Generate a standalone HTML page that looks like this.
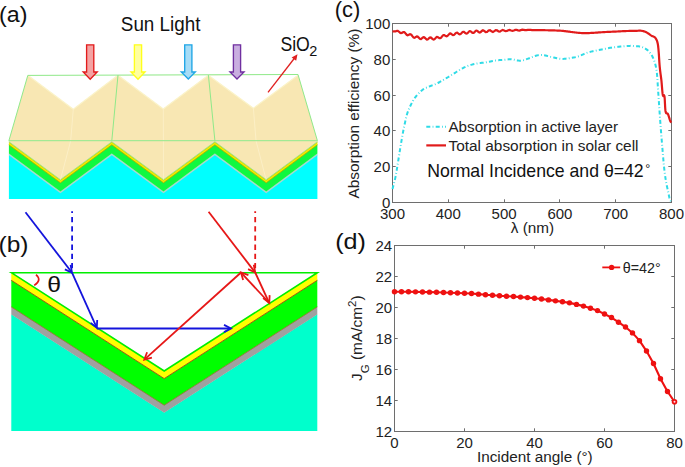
<!DOCTYPE html>
<html><head><meta charset="utf-8"><style>
html,body{margin:0;padding:0;background:#fff;width:685px;height:467px;overflow:hidden}
svg{display:block;font-family:"Liberation Sans", sans-serif}
</style></head><body>
<svg width="685" height="467" viewBox="0 0 685 467">
<polygon points="27.8,75.4 298,74.5 317.4,140.7 8.9,140.7" fill="#f8e7b3"/>
<polygon points="27.8,75.2 118,75 73.3,109.2" fill="#ffffff"/>
<polyline points="28.8,76 73.3,109.2 117,76" fill="none" stroke="#fbf3c8" stroke-width="1.2"/>
<polygon points="118,75.2 208.4,75 163.3,109" fill="#ffffff"/>
<polyline points="119,76 163.3,109 207.4,76" fill="none" stroke="#fbf3c8" stroke-width="1.2"/>
<polygon points="208.4,75.2 298,75 253.4,108.3" fill="#ffffff"/>
<polyline points="209.4,76 253.4,108.3 297,76" fill="none" stroke="#fbf3c8" stroke-width="1.2"/>
<polygon points="8.9,140.7 317.4,140.7 317.40,142.00 266.20,180.00 214.90,142.00 163.50,180.00 111.80,142.00 60.40,180.00 8.90,142.00" fill="#f8e7b3"/>
<polygon points="8.90,154.50 60.40,192.50 111.80,154.50 163.50,192.50 214.90,154.50 266.20,192.50 317.40,154.50 317.4,199 8.9,199" fill="#00ffff"/>
<polygon points="8.90,153.20 60.40,191.20 111.80,153.20 163.50,191.20 214.90,153.20 266.20,191.20 317.40,153.20 317.40,155.20 266.20,193.20 214.90,155.20 163.50,193.20 111.80,155.20 60.40,193.20 8.90,155.20" fill="#a8d8d0"/>
<polygon points="8.90,144.60 60.40,182.60 111.80,144.60 163.50,182.60 214.90,144.60 266.20,182.60 317.40,144.60 317.40,153.60 266.20,191.60 214.90,153.60 163.50,191.60 111.80,153.60 60.40,191.60 8.90,153.60" fill="#10f840"/>
<polygon points="8.90,142.00 60.40,180.00 111.80,142.00 163.50,180.00 214.90,142.00 266.20,180.00 317.40,142.00 317.40,145.00 266.20,183.00 214.90,145.00 163.50,183.00 111.80,145.00 60.40,183.00 8.90,145.00" fill="#f2f000"/>
<polyline points="8.90,142.30 60.40,180.30 111.80,142.30 163.50,180.30 214.90,142.30 266.20,180.30 317.40,142.30" fill="none" stroke="#c8c000" stroke-width="0.7"/>
<polyline points="8.90,144.80 60.40,182.80 111.80,144.80 163.50,182.80 214.90,144.80 266.20,182.80 317.40,144.80" fill="none" stroke="#9a9a00" stroke-width="0.7"/>
<line x1="73.3" y1="109.2" x2="70.7" y2="140.7" stroke="#fcefc6" stroke-width="1"/>
<line x1="163.3" y1="109" x2="163.4" y2="140.7" stroke="#fcefc6" stroke-width="1"/>
<line x1="253.4" y1="108.3" x2="256" y2="140.7" stroke="#fcefc6" stroke-width="1"/>
<line x1="70.7" y1="140.7" x2="60.4" y2="180" stroke="#fcefc6" stroke-width="1"/>
<line x1="163.4" y1="140.7" x2="163.5" y2="180" stroke="#fcefc6" stroke-width="1"/>
<line x1="256" y1="140.7" x2="266.2" y2="180" stroke="#fcefc6" stroke-width="1"/>
<line x1="27.8" y1="75.4" x2="298" y2="74.5" stroke="#8fe98a" stroke-width="1"/>
<line x1="27.8" y1="75.4" x2="8.9" y2="140.7" stroke="#8fe98a" stroke-width="1"/>
<line x1="298" y1="74.5" x2="317.4" y2="140.7" stroke="#8fe98a" stroke-width="1"/>
<line x1="8.9" y1="140.7" x2="317.4" y2="140.7" stroke="#8fe98a" stroke-width="1"/>
<line x1="118" y1="75" x2="111.8" y2="140.7" stroke="#8fe98a" stroke-width="1"/>
<line x1="208.4" y1="75" x2="214.9" y2="140.7" stroke="#8fe98a" stroke-width="1"/>
<polyline points="8.90,141.70 60.40,179.70 111.80,141.70 163.50,179.70 214.90,141.70 266.20,179.70 317.40,141.70" fill="none" stroke="#8fe98a" stroke-width="0.8"/>
<polygon points="86.60,44.80 93.80,44.80 93.80,72.00 97.20,72.00 90.20,79.30 83.20,72.00 86.60,72.00" fill="#f4a3a3" stroke="#e21b1b" stroke-width="1.35" stroke-linejoin="miter"/>
<polygon points="134.40,44.80 141.60,44.80 141.60,72.00 145.00,72.00 138.00,79.30 131.00,72.00 134.40,72.00" fill="#ffff9e" stroke="#ffff1a" stroke-width="1.35" stroke-linejoin="miter"/>
<polygon points="184.70,44.80 191.90,44.80 191.90,72.00 195.30,72.00 188.30,79.00 181.30,72.00 184.70,72.00" fill="#a6dcf6" stroke="#1fa6e6" stroke-width="1.35" stroke-linejoin="miter"/>
<polygon points="233.40,44.80 240.60,44.80 240.60,72.00 244.00,72.00 237.00,79.00 230.00,72.00 233.40,72.00" fill="#c9aee0" stroke="#7030a0" stroke-width="1.35" stroke-linejoin="miter"/>
<line x1="268" y1="92.3" x2="295" y2="57.5" stroke="#e02020" stroke-width="1.3"/>
<polygon points="297.5,54.3 291.6,57.6 296.2,60.8" fill="#e02020"/>
<text transform="translate(-0.9,21.5) scale(1.08,1)" font-size="21.5" text-anchor="start" fill="#111" >(a)</text>
<text x="120.8" y="30.6" font-size="19.8" text-anchor="start" fill="#111" textLength="79.7" lengthAdjust="spacingAndGlyphs">Sun Light</text>
<text x="280.4" y="50.6" font-size="19.8" text-anchor="start" fill="#111" textLength="29.4" lengthAdjust="spacingAndGlyphs">SiO</text>
<text x="309.2" y="55.8" font-size="14.5" text-anchor="start" fill="#111" >2</text>
<polygon points="11.30,314.20 164.20,412.50 317.30,314.20 317.3,431 11.3,431" fill="#00ffcc"/>
<polygon points="11.30,306.70 164.20,405.00 317.30,306.70 317.30,314.50 164.20,412.80 11.30,314.50" fill="#a0a0a0"/>
<polygon points="11.30,280.10 164.20,378.40 317.30,280.10 317.30,306.90 164.20,405.20 11.30,306.90" fill="#00ff00"/>
<polygon points="11.30,272.70 164.20,371.00 317.30,272.70 317.30,280.30 164.20,378.60 11.30,280.30" fill="#ffff00"/>
<polyline points="11.30,280.30 164.20,378.60 317.30,280.30" fill="none" stroke="#a05a10" stroke-width="1"/>
<polyline points="11.30,306.90 164.20,405.20 317.30,306.90" fill="none" stroke="#a06a30" stroke-width="0.8"/>
<polygon points="11.30,272.70 164.20,371.00 317.30,272.70" fill="#ffffff" stroke="#00ee00" stroke-width="1.6" stroke-linejoin="miter"/>
<line x1="72.1" y1="211.2" x2="72.1" y2="270" stroke="#1414dc" stroke-width="1.8" stroke-dasharray="5.3,3.9" stroke-dashoffset="3.4"/>
<line x1="25.5" y1="212.2" x2="71.51" y2="272.07" stroke="#1414dc" stroke-width="1.8"/><polyline points="64.88,269.34 72.00,272.70 70.59,264.96" fill="none" stroke="#1414dc" stroke-width="1.8" stroke-linejoin="miter"/>
<line x1="72" y1="272.7" x2="96.47" y2="327.07" stroke="#1414dc" stroke-width="1.8"/><polyline points="90.64,322.89 96.80,327.80 97.21,319.94" fill="none" stroke="#1414dc" stroke-width="1.8" stroke-linejoin="miter"/>
<line x1="96.8" y1="328.5" x2="230.20" y2="328.50" stroke="#1414dc" stroke-width="1.8"/><polyline points="224.00,332.10 231.00,328.50 224.00,324.90" fill="none" stroke="#1414dc" stroke-width="1.8" stroke-linejoin="miter"/>
<line x1="255.2" y1="211.2" x2="255.2" y2="270" stroke="#e61717" stroke-width="1.8" stroke-dasharray="5.3,3.9" stroke-dashoffset="3.4"/>
<line x1="208.6" y1="211.8" x2="254.71" y2="271.87" stroke="#e61717" stroke-width="1.8"/><polyline points="248.08,269.14 255.20,272.50 253.79,264.76" fill="none" stroke="#e61717" stroke-width="1.8" stroke-linejoin="miter"/>
<line x1="255.2" y1="272.5" x2="268.96" y2="302.27" stroke="#e61717" stroke-width="1.8"/><polyline points="263.09,298.16 269.30,303.00 269.63,295.14" fill="none" stroke="#e61717" stroke-width="1.8" stroke-linejoin="miter"/>
<line x1="269.3" y1="303" x2="241.54" y2="273.09" stroke="#e61717" stroke-width="1.8"/><polyline points="248.40,275.18 241.00,272.50 243.12,280.08" fill="none" stroke="#e61717" stroke-width="1.8" stroke-linejoin="miter"/>
<line x1="241" y1="272.5" x2="144.89" y2="359.06" stroke="#e61717" stroke-width="1.8"/><polyline points="147.09,352.24 144.30,359.60 151.91,357.59" fill="none" stroke="#e61717" stroke-width="1.8" stroke-linejoin="miter"/>
<path d="M 36.0 274.6 Q 42.3 280.2 34.2 285.4" fill="none" stroke="#e61717" stroke-width="1.7"/>
<text transform="translate(-1.5,252.2) scale(1.14,1)" font-size="21.5" text-anchor="start" fill="#111" >(b)</text>
<text transform="translate(47.3,292.2) scale(1.1,1)" font-size="22.5" text-anchor="start" fill="#111" >θ</text>
<rect x="392.5" y="23.5" width="279.0" height="179.0" fill="none" stroke="#6e6e6e" stroke-width="1"/>
<line x1="448.50" y1="202.5" x2="448.50" y2="199.3" stroke="#6e6e6e" stroke-width="1"/>
<line x1="448.50" y1="23.5" x2="448.50" y2="26.7" stroke="#6e6e6e" stroke-width="1"/>
<line x1="504.50" y1="202.5" x2="504.50" y2="199.3" stroke="#6e6e6e" stroke-width="1"/>
<line x1="504.50" y1="23.5" x2="504.50" y2="26.7" stroke="#6e6e6e" stroke-width="1"/>
<line x1="559.50" y1="202.5" x2="559.50" y2="199.3" stroke="#6e6e6e" stroke-width="1"/>
<line x1="559.50" y1="23.5" x2="559.50" y2="26.7" stroke="#6e6e6e" stroke-width="1"/>
<line x1="615.50" y1="202.5" x2="615.50" y2="199.3" stroke="#6e6e6e" stroke-width="1"/>
<line x1="615.50" y1="23.5" x2="615.50" y2="26.7" stroke="#6e6e6e" stroke-width="1"/>
<line x1="392.5" y1="166.50" x2="395.7" y2="166.50" stroke="#6e6e6e" stroke-width="1"/>
<line x1="671.5" y1="166.50" x2="668.3" y2="166.50" stroke="#6e6e6e" stroke-width="1"/>
<line x1="392.5" y1="130.50" x2="395.7" y2="130.50" stroke="#6e6e6e" stroke-width="1"/>
<line x1="671.5" y1="130.50" x2="668.3" y2="130.50" stroke="#6e6e6e" stroke-width="1"/>
<line x1="392.5" y1="95.50" x2="395.7" y2="95.50" stroke="#6e6e6e" stroke-width="1"/>
<line x1="671.5" y1="95.50" x2="668.3" y2="95.50" stroke="#6e6e6e" stroke-width="1"/>
<line x1="392.5" y1="59.50" x2="395.7" y2="59.50" stroke="#6e6e6e" stroke-width="1"/>
<line x1="671.5" y1="59.50" x2="668.3" y2="59.50" stroke="#6e6e6e" stroke-width="1"/>
<polyline points="392.50,189.07 392.54,188.91 392.58,188.75 392.63,188.56 392.69,188.33 392.77,188.01 392.87,187.60 393.00,187.07 393.17,186.39 393.38,185.56 393.64,184.61 393.92,183.54 394.23,182.36 394.56,181.10 394.88,179.76 395.21,178.36 395.51,176.90 395.81,175.36 396.11,173.69 396.41,171.94 396.72,170.12 397.02,168.27 397.32,166.41 397.62,164.56 397.91,162.76 398.20,160.99 398.49,159.23 398.77,157.46 399.06,155.69 399.34,153.92 399.62,152.16 399.91,150.39 400.20,148.62 400.49,146.84 400.79,145.03 401.09,143.22 401.39,141.41 401.70,139.61 402.00,137.85 402.30,136.14 402.60,134.48 402.90,132.87 403.20,131.30 403.50,129.77 403.81,128.27 404.11,126.81 404.41,125.39 404.70,124.01 405.00,122.67 405.28,121.38 405.55,120.14 405.81,118.95 406.07,117.80 406.34,116.67 406.63,115.56 406.94,114.46 407.29,113.36 407.66,112.26 408.05,111.18 408.46,110.12 408.89,109.07 409.34,108.03 409.80,107.00 410.29,105.97 410.80,104.94 411.33,103.91 411.86,102.89 412.41,101.86 412.98,100.84 413.58,99.83 414.21,98.83 414.89,97.85 415.60,96.89 416.38,95.93 417.21,94.94 418.09,93.97 419.00,93.01 419.92,92.09 420.85,91.22 421.75,90.43 422.63,89.73 423.48,89.14 424.31,88.64 425.13,88.23 425.94,87.86 426.76,87.53 427.60,87.21 428.45,86.88 429.33,86.51 430.24,86.13 431.17,85.76 432.12,85.41 433.09,85.05 434.06,84.69 435.04,84.31 436.01,83.90 436.97,83.47 437.93,82.99 438.87,82.50 439.82,81.99 440.77,81.45 441.72,80.90 442.69,80.34 443.67,79.76 444.67,79.17 445.71,78.56 446.79,77.91 447.89,77.25 448.99,76.57 450.09,75.90 451.17,75.23 452.22,74.59 453.21,73.98 454.15,73.39 455.05,72.82 455.91,72.26 456.75,71.72 457.58,71.19 458.40,70.67 459.23,70.17 460.07,69.68 460.92,69.21 461.74,68.75 462.55,68.30 463.37,67.87 464.20,67.45 465.06,67.05 465.95,66.66 466.88,66.28 467.86,65.92 468.86,65.57 469.90,65.23 470.96,64.90 472.05,64.60 473.16,64.31 474.31,64.03 475.47,63.78 476.69,63.55 477.96,63.35 479.27,63.18 480.60,63.01 481.93,62.86 483.25,62.70 484.55,62.53 485.80,62.34 487.00,62.13 488.18,61.90 489.34,61.65 490.48,61.40 491.61,61.16 492.74,60.93 493.87,60.73 495.00,60.55 496.16,60.41 497.33,60.29 498.50,60.20 499.67,60.12 500.83,60.05 501.96,59.98 503.05,59.91 504.10,59.84 505.08,59.75 505.99,59.64 506.86,59.54 507.70,59.43 508.55,59.35 509.43,59.29 510.35,59.27 511.35,59.30 512.44,59.41 513.59,59.61 514.80,59.87 516.03,60.14 517.27,60.40 518.49,60.60 519.69,60.73 520.84,60.73 521.95,60.61 523.05,60.38 524.13,60.08 525.20,59.73 526.24,59.34 527.26,58.94 528.25,58.57 529.21,58.23 530.13,57.90 531.01,57.56 531.87,57.21 532.70,56.86 533.51,56.53 534.31,56.22 535.11,55.95 535.91,55.72 536.68,55.53 537.40,55.35 538.10,55.20 538.80,55.08 539.52,55.00 540.29,54.95 541.12,54.95 542.04,55.00 543.08,55.12 544.21,55.31 545.41,55.55 546.65,55.83 547.91,56.13 549.16,56.43 550.37,56.72 551.53,56.97 552.64,57.22 553.74,57.48 554.82,57.74 555.89,58.00 556.93,58.24 557.95,58.46 558.94,58.63 559.90,58.76 560.79,58.85 561.59,58.90 562.34,58.92 563.07,58.91 563.83,58.87 564.65,58.80 565.56,58.71 566.60,58.58 567.79,58.44 569.10,58.27 570.50,58.07 571.97,57.85 573.46,57.59 574.94,57.30 576.38,56.98 577.76,56.62 579.04,56.20 580.25,55.71 581.43,55.18 582.60,54.62 583.80,54.06 585.04,53.50 586.37,52.98 587.80,52.50 589.39,52.06 591.12,51.63 592.94,51.22 594.81,50.83 596.67,50.46 598.48,50.10 600.19,49.77 601.75,49.46 603.15,49.17 604.45,48.90 605.66,48.66 606.81,48.44 607.92,48.23 609.01,48.03 610.11,47.85 611.24,47.66 612.37,47.49 613.49,47.34 614.60,47.19 615.70,47.06 616.80,46.94 617.91,46.82 619.03,46.70 620.16,46.59 621.35,46.48 622.59,46.36 623.85,46.25 625.12,46.14 626.35,46.05 627.54,45.97 628.65,45.91 629.65,45.88 630.53,45.87 631.29,45.88 631.98,45.91 632.61,45.96 633.23,46.03 633.85,46.09 634.51,46.16 635.23,46.23 636.01,46.28 636.82,46.29 637.64,46.30 638.48,46.32 639.33,46.38 640.19,46.48 641.06,46.67 641.93,46.95 642.81,47.32 643.74,47.75 644.67,48.25 645.62,48.81 646.54,49.42 647.44,50.10 648.28,50.82 649.07,51.60 649.79,52.44 650.48,53.33 651.13,54.27 651.74,55.27 652.31,56.33 652.86,57.44 653.38,58.61 653.87,59.84 654.33,61.09 654.75,62.38 655.14,63.70 655.50,65.08 655.84,66.55 656.15,68.12 656.44,69.82 656.71,71.65 656.96,73.63 657.16,75.75 657.33,77.98 657.49,80.31 657.63,82.74 657.78,85.24 657.93,87.82 658.11,90.45 658.30,93.22 658.51,96.20 658.72,99.30 658.93,102.45 659.14,105.58 659.35,108.61 659.54,111.46 659.73,114.07 659.89,116.41 660.05,118.53 660.19,120.49 660.33,122.35 660.46,124.16 660.60,125.97 660.74,127.84 660.90,129.83 661.06,131.89 661.22,133.96 661.39,136.05 661.56,138.17 661.74,140.32 661.92,142.50 662.10,144.73 662.29,147.01 662.49,149.39 662.70,151.88 662.91,154.45 663.13,157.03 663.35,159.60 663.57,162.10 663.80,164.48 664.02,166.70 664.25,168.77 664.48,170.74 664.71,172.62 664.94,174.42 665.18,176.15 665.42,177.82 665.67,179.44 665.92,181.02 666.19,182.56 666.47,184.03 666.76,185.45 667.05,186.82 667.34,188.13 667.63,189.39 667.90,190.60 668.15,191.76 668.39,192.89 668.61,193.99 668.82,195.04 669.02,196.04 669.22,196.98 669.42,197.84 669.62,198.61 669.83,199.28 670.05,199.83 670.28,200.28 670.53,200.63 670.77,200.91 670.99,201.13 671.20,201.31 671.37,201.46 671.50,201.60" fill="none" stroke="#2fdbe6" stroke-width="2" stroke-dasharray="4,2.3,0.8,2.3"/>
<polyline points="392.50,31.56 392.79,31.53 393.15,31.49 393.58,31.44 394.07,31.39 394.61,31.35 395.18,31.32 395.78,31.34 396.41,31.06 397.06,30.87 397.77,30.92 398.52,31.33 399.30,32.02 400.10,32.73 400.92,33.11 401.73,32.97 402.54,32.47 403.35,31.99 404.18,32.01 405.01,32.71 405.86,33.82 406.70,34.82 407.55,35.27 408.40,35.05 409.24,34.49 410.08,34.12 410.91,34.36 411.75,35.25 412.59,36.45 413.42,37.43 414.26,37.80 415.10,37.50 415.94,36.88 416.77,36.46 417.61,36.62 418.45,37.36 419.28,38.32 420.12,38.99 420.96,39.02 421.80,38.45 422.63,37.67 423.47,37.20 424.31,37.36 425.14,38.09 425.98,38.99 426.82,39.55 427.65,39.44 428.49,38.76 429.33,37.93 430.16,37.45 431.00,37.63 431.84,38.34 432.68,39.15 433.51,39.54 434.35,39.25 435.19,38.41 436.02,37.48 436.86,36.92 437.71,37.01 438.56,37.57 439.41,38.13 440.25,38.21 441.09,37.62 441.91,36.58 442.72,35.60 443.51,35.07 444.28,35.13 445.04,35.60 445.79,36.13 446.54,36.38 447.30,36.11 448.07,35.35 448.86,34.38 449.67,33.63 450.49,33.47 451.33,33.95 452.17,34.71 453.02,35.21 453.87,35.08 454.71,34.34 455.55,33.37 456.39,32.72 457.23,32.69 458.06,33.25 458.90,33.98 459.74,34.38 460.58,34.13 461.41,33.32 462.25,32.38 463.09,31.81 463.94,31.90 464.79,32.55 465.63,33.29 466.48,33.61 467.31,33.27 468.14,32.44 468.95,31.57 469.74,31.10 470.51,31.22 471.26,31.79 472.02,32.49 472.77,32.94 473.52,32.89 474.29,32.31 475.08,31.44 475.86,30.75 476.61,30.55 477.36,30.87 478.12,31.57 478.92,32.28 479.78,32.56 480.73,32.07 481.78,30.98 482.96,30.23 484.26,30.85 485.64,32.11 487.08,32.02 488.56,30.58 490.05,30.15 491.51,31.30 492.94,32.00 494.33,31.17 495.73,30.10 497.12,30.32 498.52,31.35 499.92,31.55 501.31,30.62 502.71,29.94 504.10,30.43 505.50,31.21 506.89,31.05 508.29,30.20 509.68,29.90 511.08,30.47 512.47,30.93 513.87,30.56 515.26,29.92 516.65,29.89 518.05,30.38 519.44,30.53 520.84,30.11 522.23,29.72 523.63,29.84 525.02,30.16 526.42,30.15 527.81,29.87 529.21,29.77 530.61,29.95 532.00,30.11 533.39,30.09 534.79,30.03 536.18,30.07 537.58,30.12 538.98,30.14 540.37,30.16 541.77,30.18 543.16,30.20 544.56,30.22 545.95,30.24 547.35,30.27 548.74,30.30 550.15,30.33 551.60,30.37 553.05,30.40 554.49,30.44 555.92,30.48 557.31,30.53 558.64,30.59 559.90,30.66 561.08,30.74 562.19,30.84 563.24,30.95 564.26,31.06 565.25,31.18 566.24,31.31 567.24,31.43 568.27,31.56 569.32,31.68 570.36,31.82 571.41,31.97 572.45,32.11 573.50,32.26 574.55,32.39 575.59,32.52 576.64,32.63 577.69,32.73 578.73,32.82 579.78,32.91 580.83,32.99 581.87,33.05 582.92,33.11 583.96,33.15 585.01,33.17 586.04,33.17 587.04,33.15 588.03,33.11 589.02,33.07 590.04,33.01 591.09,32.94 592.20,32.88 593.38,32.81 594.64,32.73 595.97,32.65 597.36,32.56 598.79,32.46 600.23,32.36 601.68,32.27 603.13,32.18 604.54,32.09 605.93,32.02 607.33,31.95 608.73,31.88 610.12,31.81 611.52,31.75 612.91,31.69 614.30,31.62 615.70,31.56 617.11,31.49 618.56,31.41 620.01,31.34 621.45,31.26 622.88,31.19 624.27,31.13 625.60,31.07 626.86,31.02 628.05,30.98 629.19,30.94 630.28,30.92 631.32,30.89 632.34,30.88 633.32,30.86 634.28,30.85 635.23,30.84 636.16,30.82 637.06,30.78 637.94,30.75 638.79,30.72 639.61,30.70 640.41,30.71 641.18,30.75 641.93,30.84 642.64,30.97 643.31,31.13 643.96,31.32 644.58,31.54 645.18,31.79 645.77,32.05 646.36,32.33 646.95,32.63 647.54,32.96 648.12,33.33 648.70,33.73 649.27,34.15 649.83,34.57 650.37,34.97 650.90,35.34 651.41,35.67 651.91,35.94 652.40,36.14 652.87,36.31 653.33,36.47 653.77,36.64 654.19,36.84 654.60,37.11 654.98,37.46 655.35,37.88 655.69,38.34 656.02,38.84 656.33,39.39 656.62,39.98 656.90,40.63 657.15,41.34 657.38,42.12 657.59,42.92 657.76,43.73 657.91,44.58 658.05,45.49 658.17,46.50 658.29,47.63 658.42,48.90 658.55,50.35 658.70,52.03 658.83,53.94 658.97,56.02 659.11,58.21 659.25,60.45 659.39,62.67 659.55,64.81 659.73,66.82 659.92,68.70 660.13,70.52 660.35,72.29 660.58,74.03 660.81,75.76 661.04,77.48 661.25,79.21 661.46,80.96 661.64,82.81 661.81,84.80 661.97,86.83 662.13,88.84 662.29,90.74 662.45,92.47 662.61,93.95 662.80,95.10 662.99,95.78 663.20,95.99 663.42,95.90 663.65,95.66 663.87,95.43 664.08,95.36 664.28,95.62 664.47,96.35 664.63,97.67 664.76,99.47 664.87,101.59 664.99,103.88 665.10,106.18 665.23,108.33 665.39,110.18 665.59,111.57 665.82,112.46 666.08,112.98 666.37,113.24 666.68,113.34 667.00,113.36 667.31,113.43 667.63,113.63 667.93,114.07 668.23,114.77 668.54,115.64 668.86,116.62 669.17,117.64 669.48,118.66 669.76,119.61 670.03,120.43 670.27,121.06 670.49,121.49 670.69,121.80 670.87,122.00 671.03,122.12 671.18,122.18 671.31,122.22 671.41,122.25 671.50,122.31" fill="none" stroke="#e11b1b" stroke-width="2.2"/>
<text x="392.50" y="218.8" font-size="15" text-anchor="middle" fill="#222" >300</text>
<text x="448.30" y="218.8" font-size="15" text-anchor="middle" fill="#222" >400</text>
<text x="504.10" y="218.8" font-size="15" text-anchor="middle" fill="#222" >500</text>
<text x="559.90" y="218.8" font-size="15" text-anchor="middle" fill="#222" >600</text>
<text x="615.70" y="218.8" font-size="15" text-anchor="middle" fill="#222" >700</text>
<text x="671.50" y="218.8" font-size="15" text-anchor="middle" fill="#222" >800</text>
<text x="390.3" y="208.00" font-size="15" text-anchor="end" fill="#222" >0</text>
<text x="390.3" y="172.20" font-size="15" text-anchor="end" fill="#222" >20</text>
<text x="390.3" y="136.40" font-size="15" text-anchor="end" fill="#222" >40</text>
<text x="390.3" y="100.60" font-size="15" text-anchor="end" fill="#222" >60</text>
<text x="390.3" y="64.80" font-size="15" text-anchor="end" fill="#222" >80</text>
<text x="390.3" y="29.00" font-size="15" text-anchor="end" fill="#222" >100</text>
<text x="532.5" y="233.3" font-size="15.3" text-anchor="middle" fill="#222" >λ (nm)</text>
<text transform="translate(358.8,113.6) rotate(-90)" font-size="15.4" text-anchor="middle" fill="#222">Absorption efficiency (%)</text>
<line x1="426.3" y1="126.8" x2="446" y2="126.8" stroke="#2fdbe6" stroke-width="2" stroke-dasharray="4,2.3,0.8,2.3"/>
<line x1="426.3" y1="145.4" x2="446" y2="145.4" stroke="#e11b1b" stroke-width="2.2"/>
<text x="448.5" y="131.5" font-size="14" text-anchor="start" fill="#222" textLength="169.6" lengthAdjust="spacingAndGlyphs">Absorption in active layer</text>
<text x="448.5" y="150.8" font-size="14" text-anchor="start" fill="#222" textLength="190" lengthAdjust="spacingAndGlyphs">Total absorption in solar cell</text>
<text x="427.2" y="176.6" font-size="17.8" text-anchor="start" fill="#111" textLength="216.5" lengthAdjust="spacingAndGlyphs">Normal Incidence and θ=42</text>
<text x="645.3" y="172.5" font-size="12.5" text-anchor="start" fill="#111" >°</text>
<text transform="translate(334.7,17.3) scale(1.02,1)" font-size="21.5" text-anchor="start" fill="#111" >(c)</text>
<rect x="394.5" y="245.5" width="280.0" height="186.0" fill="none" stroke="#6e6e6e" stroke-width="1"/>
<line x1="464.50" y1="431.5" x2="464.50" y2="428.3" stroke="#6e6e6e" stroke-width="1"/>
<line x1="464.50" y1="245.5" x2="464.50" y2="248.7" stroke="#6e6e6e" stroke-width="1"/>
<line x1="534.50" y1="431.5" x2="534.50" y2="428.3" stroke="#6e6e6e" stroke-width="1"/>
<line x1="534.50" y1="245.5" x2="534.50" y2="248.7" stroke="#6e6e6e" stroke-width="1"/>
<line x1="604.50" y1="431.5" x2="604.50" y2="428.3" stroke="#6e6e6e" stroke-width="1"/>
<line x1="604.50" y1="245.5" x2="604.50" y2="248.7" stroke="#6e6e6e" stroke-width="1"/>
<line x1="394.5" y1="400.50" x2="397.7" y2="400.50" stroke="#6e6e6e" stroke-width="1"/>
<line x1="674.5" y1="400.50" x2="671.3" y2="400.50" stroke="#6e6e6e" stroke-width="1"/>
<line x1="394.5" y1="369.50" x2="397.7" y2="369.50" stroke="#6e6e6e" stroke-width="1"/>
<line x1="674.5" y1="369.50" x2="671.3" y2="369.50" stroke="#6e6e6e" stroke-width="1"/>
<line x1="394.5" y1="338.50" x2="397.7" y2="338.50" stroke="#6e6e6e" stroke-width="1"/>
<line x1="674.5" y1="338.50" x2="671.3" y2="338.50" stroke="#6e6e6e" stroke-width="1"/>
<line x1="394.5" y1="307.50" x2="397.7" y2="307.50" stroke="#6e6e6e" stroke-width="1"/>
<line x1="674.5" y1="307.50" x2="671.3" y2="307.50" stroke="#6e6e6e" stroke-width="1"/>
<line x1="394.5" y1="276.50" x2="397.7" y2="276.50" stroke="#6e6e6e" stroke-width="1"/>
<line x1="674.5" y1="276.50" x2="671.3" y2="276.50" stroke="#6e6e6e" stroke-width="1"/>
<polyline points="394.50,291.69 401.50,291.69 408.50,291.69 415.50,291.84 422.50,292.00 429.50,292.16 436.50,292.31 443.50,292.47 450.50,292.77 457.50,292.93 464.50,293.24 471.50,293.55 478.50,294.17 485.50,294.79 492.50,295.25 499.50,295.72 506.50,296.19 513.50,296.50 520.50,297.12 527.50,297.58 534.50,298.20 541.50,298.98 548.50,299.91 555.50,300.84 562.50,301.76 569.50,302.85 576.50,304.40 583.50,306.11 590.50,308.28 597.50,310.60 604.50,314.01 611.50,317.57 618.50,322.22 625.50,327.03 632.50,332.92 639.50,340.67 646.50,351.05 653.50,363.45 660.50,378.80 667.50,391.51 674.50,401.74" fill="none" stroke="#ee1111" stroke-width="2.1"/>
<circle cx="394.50" cy="291.69" r="2.7" fill="#ee1111"/>
<circle cx="401.50" cy="291.69" r="2.7" fill="#ee1111"/>
<circle cx="408.50" cy="291.69" r="2.7" fill="#ee1111"/>
<circle cx="415.50" cy="291.84" r="2.7" fill="#ee1111"/>
<circle cx="422.50" cy="292.00" r="2.7" fill="#ee1111"/>
<circle cx="429.50" cy="292.16" r="2.7" fill="#ee1111"/>
<circle cx="436.50" cy="292.31" r="2.7" fill="#ee1111"/>
<circle cx="443.50" cy="292.47" r="2.7" fill="#ee1111"/>
<circle cx="450.50" cy="292.77" r="2.7" fill="#ee1111"/>
<circle cx="457.50" cy="292.93" r="2.7" fill="#ee1111"/>
<circle cx="464.50" cy="293.24" r="2.7" fill="#ee1111"/>
<circle cx="471.50" cy="293.55" r="2.7" fill="#ee1111"/>
<circle cx="478.50" cy="294.17" r="2.7" fill="#ee1111"/>
<circle cx="485.50" cy="294.79" r="2.7" fill="#ee1111"/>
<circle cx="492.50" cy="295.25" r="2.7" fill="#ee1111"/>
<circle cx="499.50" cy="295.72" r="2.7" fill="#ee1111"/>
<circle cx="506.50" cy="296.19" r="2.7" fill="#ee1111"/>
<circle cx="513.50" cy="296.50" r="2.7" fill="#ee1111"/>
<circle cx="520.50" cy="297.12" r="2.7" fill="#ee1111"/>
<circle cx="527.50" cy="297.58" r="2.7" fill="#ee1111"/>
<circle cx="534.50" cy="298.20" r="2.7" fill="#ee1111"/>
<circle cx="541.50" cy="298.98" r="2.7" fill="#ee1111"/>
<circle cx="548.50" cy="299.91" r="2.7" fill="#ee1111"/>
<circle cx="555.50" cy="300.84" r="2.7" fill="#ee1111"/>
<circle cx="562.50" cy="301.76" r="2.7" fill="#ee1111"/>
<circle cx="569.50" cy="302.85" r="2.7" fill="#ee1111"/>
<circle cx="576.50" cy="304.40" r="2.7" fill="#ee1111"/>
<circle cx="583.50" cy="306.11" r="2.7" fill="#ee1111"/>
<circle cx="590.50" cy="308.28" r="2.7" fill="#ee1111"/>
<circle cx="597.50" cy="310.60" r="2.7" fill="#ee1111"/>
<circle cx="604.50" cy="314.01" r="2.7" fill="#ee1111"/>
<circle cx="611.50" cy="317.57" r="2.7" fill="#ee1111"/>
<circle cx="618.50" cy="322.22" r="2.7" fill="#ee1111"/>
<circle cx="625.50" cy="327.03" r="2.7" fill="#ee1111"/>
<circle cx="632.50" cy="332.92" r="2.7" fill="#ee1111"/>
<circle cx="639.50" cy="340.67" r="2.7" fill="#ee1111"/>
<circle cx="646.50" cy="351.05" r="2.7" fill="#ee1111"/>
<circle cx="653.50" cy="363.45" r="2.7" fill="#ee1111"/>
<circle cx="660.50" cy="378.80" r="2.7" fill="#ee1111"/>
<circle cx="667.50" cy="391.51" r="2.7" fill="#ee1111"/>
<circle cx="674.50" cy="401.74" r="1.9" fill="#fde" stroke="#ee1111" stroke-width="1.8"/>
<text x="394.50" y="447.6" font-size="15" text-anchor="middle" fill="#222" >0</text>
<text x="464.50" y="447.6" font-size="15" text-anchor="middle" fill="#222" >20</text>
<text x="534.50" y="447.6" font-size="15" text-anchor="middle" fill="#222" >40</text>
<text x="604.50" y="447.6" font-size="15" text-anchor="middle" fill="#222" >60</text>
<text x="674.50" y="447.6" font-size="15" text-anchor="middle" fill="#222" >80</text>
<text x="392.2" y="437.00" font-size="15" text-anchor="end" fill="#222" >12</text>
<text x="392.2" y="406.00" font-size="15" text-anchor="end" fill="#222" >14</text>
<text x="392.2" y="375.00" font-size="15" text-anchor="end" fill="#222" >16</text>
<text x="392.2" y="344.00" font-size="15" text-anchor="end" fill="#222" >18</text>
<text x="392.2" y="313.00" font-size="15" text-anchor="end" fill="#222" >20</text>
<text x="392.2" y="282.00" font-size="15" text-anchor="end" fill="#222" >22</text>
<text x="392.2" y="251.00" font-size="15" text-anchor="end" fill="#222" >24</text>
<text x="534.8" y="461.5" font-size="15.3" text-anchor="middle" fill="#222" >Incident angle (°)</text>
<text transform="translate(362.3,338.2) rotate(-90)" font-size="15.4" text-anchor="middle" fill="#222">J<tspan font-size="11.5" dy="6.5">G</tspan><tspan dy="-6.5"> (mA/cm</tspan><tspan font-size="11.5" dy="-6.5">2</tspan><tspan dy="6.5">)</tspan></text>
<line x1="602.3" y1="267.4" x2="620.2" y2="267.4" stroke="#ee1111" stroke-width="1.8"/>
<circle cx="611.6" cy="267.4" r="2.7" fill="#ee1111"/>
<text x="622.8" y="273.2" font-size="14.3" text-anchor="start" fill="#222" >θ=42°</text>
<text transform="translate(335.2,249) scale(1.17,1)" font-size="21.5" text-anchor="start" fill="#111" >(d)</text>
</svg>
</body></html>
